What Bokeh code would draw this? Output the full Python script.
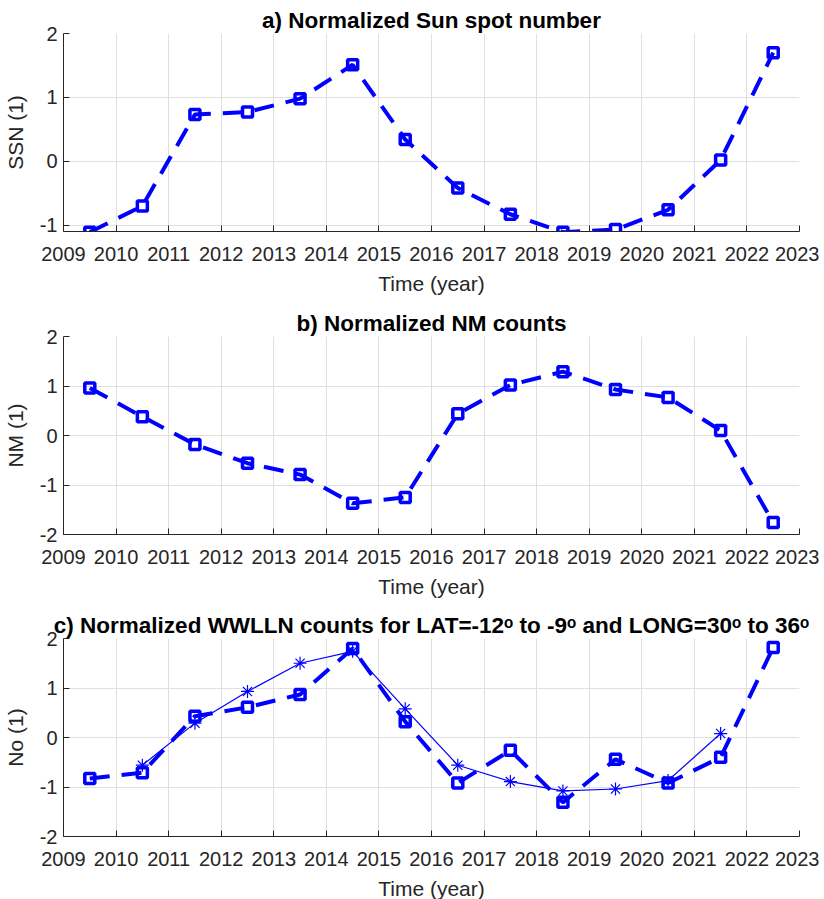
from bokeh.plotting import figure
from bokeh.layouts import column
from bokeh.models import FixedTicker, Range1d
from bokeh.embed import file_html
from bokeh.resources import INLINE

# ---- data ----
years = [2009.5, 2010.5, 2011.5, 2012.5, 2013.5, 2014.5, 2015.5,
         2016.5, 2017.5, 2018.5, 2019.5, 2020.5, 2021.5, 2022.5]
ssn = [-1.11, -0.70, 0.73, 0.77, 0.98, 1.51, 0.34,
       -0.42, -0.83, -1.11, -1.07, -0.76, 0.02, 1.70]
nm = [0.96, 0.38, -0.18, -0.56, -0.79, -1.37, -1.25,
      0.44, 1.02, 1.29, 0.93, 0.77, 0.10, -1.76]
wwlln = [-0.83, -0.71, 0.43, 0.61, 0.87, 1.80, 0.32,
         -0.92, -0.26, -1.31, -0.44, -0.92, -0.40, 1.82]
star_years = [2010.5, 2011.5, 2012.5, 2013.5, 2014.5, 2015.5,
              2016.5, 2017.5, 2018.5, 2019.5, 2020.5, 2021.5]
wwlln_star = [-0.56, 0.29, 0.93, 1.50, 1.74, 0.58,
              -0.56, -0.89, -1.08, -1.04, -0.87, 0.08]
x_ticks = [2009, 2010, 2011, 2012, 2013, 2014, 2015, 2016,
           2017, 2018, 2019, 2020, 2021, 2022, 2023]
y_ticks_a = [-1, 0, 1, 2]
y_ticks_bc = [-2, -1, 0, 1, 2]
y_tick_labels = {-2: "-2", -1: "-1", 0: "0", 1: "1", 2: "2"}

BLUE = "#0000ff"
AX = "#262626"
FONT = "Liberation Sans"


def make_fig(title, ylabel, ylo, yticks, top_border, bottom_border):
    p = figure(frame_width=736, frame_height=198,
               x_range=Range1d(2009, 2023), y_range=Range1d(ylo, 2),
               output_backend="svg", toolbar_location=None,
               min_border_left=58, min_border_right=20,
               min_border_top=top_border, min_border_bottom=bottom_border,
               title=title)
    p.title.text_font = FONT
    p.title.text_font_size = "22.5px"
    p.title.text_font_style = "bold"
    p.title.align = "center"
    p.title.text_color = "#000000"
    p.title.standoff = 2
    p.outline_line_color = None
    p.background_fill_color = "white"
    p.border_fill_color = "white"

    p.xaxis.ticker = FixedTicker(ticks=x_ticks)
    p.yaxis.ticker = FixedTicker(ticks=yticks)
    p.yaxis.major_label_overrides = {k: v for k, v in y_tick_labels.items() if k in yticks}
    p.xaxis.axis_label = "Time (year)"
    p.yaxis.axis_label = ylabel
    for ax in (p.xaxis, p.yaxis):
        ax.axis_line_color = AX
        ax.axis_line_width = 1
        ax.major_tick_line_color = AX
        ax.major_tick_in = 6
        ax.major_tick_out = 0
        ax.minor_tick_line_color = None
        ax.major_label_text_font = FONT
        ax.major_label_text_font_size = "20px"
        ax.major_label_text_color = AX
        ax.axis_label_text_font = FONT
        ax.axis_label_text_font_size = "21px"
        ax.axis_label_text_font_style = "normal"
        ax.axis_label_text_color = AX
    p.xaxis.major_label_standoff = 15
    p.xaxis.axis_label_standoff = 8
    p.yaxis.major_label_standoff = 6
    p.yaxis.axis_label_standoff = 10

    p.grid.grid_line_color = "#dfdfdf"
    p.grid.grid_line_width = 1
    return p


def dashed_series(p, xs, ys):
    p.line(xs, ys, line_color=BLUE, line_width=4, line_dash="20 12")
    p.scatter(xs, ys, marker="square", size=10, line_color=BLUE,
              line_width=3.5, fill_color=None)


pa = make_fig("a) Normalized Sun spot number", "SSN (1)", -1.1, y_ticks_a, 33, 70)
dashed_series(pa, years, ssn)

pb = make_fig("b) Normalized NM counts", "NM (1)", -2, y_ticks_bc, 35, 69)
dashed_series(pb, years, nm)

pc = make_fig("c) Normalized WWLLN counts for LAT=-12\u1d52 to -9\u1d52 and LONG=30\u1d52 to 36\u1d52",
              "No (1)", -2, y_ticks_bc, 35, 48)
dashed_series(pc, years, wwlln)
pc.line(star_years, wwlln_star, line_color=BLUE, line_width=1.2)
pc.scatter(star_years, wwlln_star, marker="asterisk", size=13,
           line_color=BLUE, line_width=1.2)

layout = column(pa, pb, pc, spacing=0)
open("out.html", "w").write(file_html(layout, INLINE))
